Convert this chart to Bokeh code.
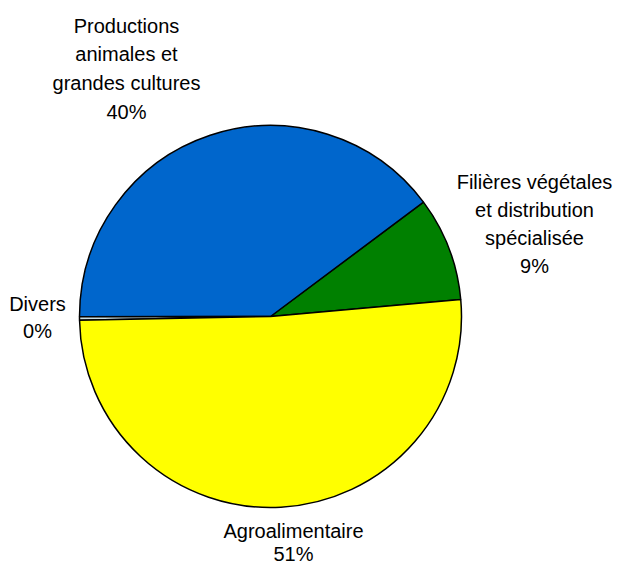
import math
from bokeh.plotting import figure
from bokeh.models import Range1d, ColumnDataSource
from bokeh.core.properties import value
from bokeh.embed import file_html
from bokeh.resources import INLINE

# Data (anticlockwise order starting from the green slice)
categories = ["Filières végétales\net distribution\nspécialisée",
              "Productions\nanimales et\ngrandes cultures",
              "Divers",
              "Agroalimentaire"]
shares = [8.8, 39.8, 0.3, 51.1]
pct_labels = ["9%", "40%", "0%", "51%"]
colors = ["#008000", "#0066CC", "#C8DCE0", "#FFFF00"]

W, H = 617, 567
p = figure(width=W, height=H, output_backend="svg", toolbar_location=None,
           x_range=Range1d(0, W), y_range=Range1d(0, H),
           min_border=0, background_fill_color="white", border_fill_color="white")
p.axis.visible = False
p.grid.visible = False
p.outline_line_color = None

def py(y):  # page y -> data y
    return H - y

cx, cy, r = 270, py(316), 191
start_deg = 5.1
total = sum(shares)
starts, ends = [], []
a = math.radians(start_deg)
for s in shares:
    starts.append(a)
    a += s / total * 2 * math.pi
    ends.append(a)

src = ColumnDataSource(dict(start=starts, end=ends, color=colors))
p.wedge(x=cx, y=cy, radius=r, start_angle="start", end_angle="end",
        fill_color="color", line_color="black", line_width=1.5, source=src)

# Labels (layout positions: x centre, first line y, line gap)
label_pos = [(534, 181, 28.3), (126, 25, 28.8), (37, 303, 27), (293, 530, 23.5)]
xs, ys, ts = [], [], []
for cat, pct, (lx, ly, gap) in zip(categories, pct_labels, label_pos):
    lines = cat.split("\n") + [pct]
    for i, t in enumerate(lines):
        xs.append(lx)
        ys.append(py(ly + i * gap))
        ts.append(t)

p.text(x=xs, y=ys, text=ts, text_font=value("Liberation Sans"),
       text_font_size="20px", text_color="black",
       text_align="center", text_baseline="middle")

open("out.html", "w").write(file_html(p, INLINE))
